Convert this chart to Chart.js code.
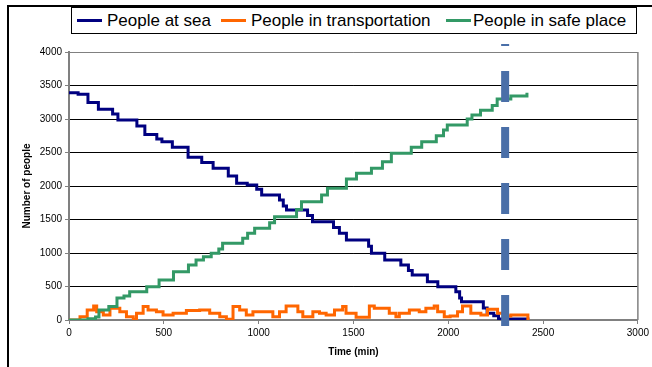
<!DOCTYPE html>
<html>
<head>
<meta charset="utf-8">
<script src="https://cdn.jsdelivr.net/npm/chart.js@4.4.1/dist/chart.umd.min.js"></script>
<style>
    body { margin: 0; background: #fff; }
    #wrap { position: relative; width: 652px; height: 367px; overflow: hidden; font-family: "Liberation Sans", Arial, sans-serif; }
    #frame { position: absolute; left: 7px; top: 5px; width: 700px; height: 400px; border-top: 2px solid #000; border-left: 2px solid #000; }
    #legend { position: absolute; left: 71px; top: 7px; width: 564px; height: 25px; border: 1px solid #000; background: #fff; z-index: 2; }
    .lg-line { position: absolute; top: 11px; width: 25px; height: 3px; }
    .lg-text { position: absolute; top: 0; line-height: 25px; font-size: 17px; color: #000; white-space: nowrap; }
    canvas { position: absolute; left: 0; top: 0; z-index: 1; }
</style>
</head>
<body>
<div id="wrap">
    <div id="frame"></div>
    <canvas id="peopleChart" width="652" height="367"></canvas>
    <div id="legend"></div>
</div>
<script>
// time (min), number of people
const peopleAtSea = [
    [0, 3390], [48, 3370], [100, 3245], [155, 3145], [230, 3075], [258, 2985],
    [358, 2895], [400, 2770], [463, 2700], [490, 2660], [545, 2580], [628, 2430],
    [700, 2350], [760, 2265], [840, 2150], [884, 2040], [940, 2015], [990, 1950],
    [1016, 1866], [1110, 1790], [1130, 1700], [1147, 1642], [1258, 1560], [1284, 1468],
    [1395, 1380], [1426, 1294], [1463, 1194], [1580, 1100], [1595, 995], [1665, 896],
    [1750, 821], [1790, 740], [1810, 672], [1890, 572], [1945, 497], [2040, 420],
    [2060, 330], [2070, 273], [2185, 180], [2205, 100], [2240, 64], [2265, 15], [2420, 10]
];
const peopleInTransport = [
    [0, 0], [58, 50], [96, 150], [130, 210], [146, 125], [181, 75], [216, 175],
    [268, 125], [303, 50], [339, 10], [356, 100], [391, 200], [417, 150], [461, 125],
    [496, 75], [549, 100], [619, 140], [689, 150], [742, 100], [795, 50], [830, 10],
    [865, 200], [900, 150], [935, 75], [970, 125], [1075, 50], [1110, 125], [1145, 210],
    [1207, 125], [1233, 50], [1286, 125], [1321, 100], [1356, 75], [1400, 150], [1443, 200],
    [1461, 100], [1514, 40], [1584, 210], [1610, 175], [1689, 100], [1724, 50], [1742, 100],
    [1795, 150], [1847, 125], [1882, 175], [1926, 210], [1944, 125], [1979, 50], [2010, 60],
    [2049, 125], [2075, 210], [2119, 100], [2172, 75], [2207, 160], [2260, 100], [2290, 60],
    [2330, 75], [2420, 0]
];
const peopleSafe = [
    [0, 0], [100, 20], [140, 45], [158, 150], [210, 200], [253, 328], [290, 358],
    [320, 423], [410, 497], [475, 597], [551, 721], [630, 821], [670, 896], [709, 945],
    [750, 995], [790, 1060], [810, 1144], [916, 1220], [942, 1294], [979, 1368], [1058, 1450],
    [1084, 1542], [1200, 1650], [1226, 1766], [1332, 1866], [1363, 1965], [1463, 2104],
    [1516, 2189], [1595, 2264], [1653, 2363], [1700, 2488], [1805, 2577], [1860, 2662],
    [1937, 2750], [1975, 2836], [1995, 2910], [2100, 3000], [2125, 3060], [2170, 3130],
    [2232, 3200], [2258, 3300], [2330, 3343], [2415, 3393]
];
// vertical dashed marker at t = 2300
const markerLine = [[2300, -90], [2300, 4120]];

const seriesNames = ["People at sea", "People in transportation", "People in safe place"];
const seriesColors = ["#000080", "#FF6600", "#339966"];

const X_MAX = 3000;
const Y_MAX = 4000;

const toXY = arr => arr.map(p => ({ x: p[0], y: p[1] }));

/* html legend, boxed like the original */
const legendEl = document.getElementById("legend");
const legendPos = [[5, 35], [149, 179], [374, 401]];
seriesNames.forEach((name, i) => {
    const line = document.createElement("div");
    line.className = "lg-line";
    line.style.left = legendPos[i][0] + "px";
    line.style.background = seriesColors[i];
    const txt = document.createElement("div");
    txt.className = "lg-text";
    txt.style.left = legendPos[i][1] + "px";
    txt.textContent = name;
    legendEl.appendChild(line);
    legendEl.appendChild(txt);
});

// right edge of the plot area
const plotEdge = {
    id: "plotEdge",
    beforeDatasetsDraw(chart) {
        const { ctx, chartArea: a } = chart;
        ctx.save();
        ctx.strokeStyle = "#808080";
        ctx.lineWidth = 1.5;
        ctx.beginPath();
        ctx.moveTo(a.right, a.top);
        ctx.lineTo(a.right, a.bottom);
        ctx.stroke();
        ctx.restore();
    }
};

const lineSet = (i, data, order) => ({
    label: seriesNames[i],
    data: toXY(data),
    borderColor: seriesColors[i],
    backgroundColor: seriesColors[i],
    borderWidth: 3,
    pointRadius: 0,
    stepped: true,
    fill: false,
    order: order
});

const plainTick = v => String(v);

const ctx = document.getElementById("peopleChart");
new Chart(ctx, {
    type: "line",
    data: {
        datasets: [
            {
                label: "marker",
                data: toXY(markerLine),
                borderColor: "#4a6fa8",
                borderWidth: 8,
                borderDash: [31, 25],
                borderCapStyle: "butt",
                pointRadius: 0,
                clip: false,
                order: 0
            },
            lineSet(0, peopleAtSea, 3),
            lineSet(1, peopleInTransport, 2),
            lineSet(2, peopleSafe, 1)
        ]
    },
    options: {
        responsive: false,
        animation: false,
        layout: { padding: { top: 52, right: 11, left: 0, bottom: 0 } },
        plugins: {
            legend: { display: false },
            tooltip: { enabled: false }
        },
        scales: {
            x: {
                type: "linear",
                min: 0,
                max: X_MAX,
                afterFit: s => { s.height = 47; },
                ticks: {
                    stepSize: 500,
                    color: "#000",
                    padding: 3,
                    callback: plainTick,
                    font: { family: "Liberation Sans", size: 10 }
                },
                grid: { drawOnChartArea: false, drawTicks: true, tickLength: 4, tickColor: "#808080" },
                border: { display: true, color: "#808080", width: 2 },
                title: {
                    display: true,
                    text: "Time (min)",
                    color: "#000",
                    font: { family: "Liberation Sans", size: 10, weight: "bold" },
                    padding: { top: 0, bottom: 9 }
                }
            },
            y: {
                min: 0,
                max: Y_MAX,
                afterFit: s => { s.width = 69; },
                ticks: {
                    stepSize: 500,
                    color: "#000",
                    padding: 3,
                    callback: plainTick,
                    font: { family: "Liberation Sans", size: 10 }
                },
                grid: {
                    color: c => (c.tick && (c.tick.value === Y_MAX || c.tick.value === 0)) ? "#808080" : "#000",
                    lineWidth: 1,
                    tickLength: 4,
                    tickColor: "#808080"
                },
                border: { display: true, color: "#808080", width: 2 },
                title: {
                    display: true,
                    text: "Number of people",
                    color: "#000",
                    font: { family: "Liberation Sans", size: 10, weight: "bold" },
                    padding: { top: 21, bottom: 0 }
                }
            }
        }
    },
    plugins: [plotEdge]
});
</script>
</body>
</html>
